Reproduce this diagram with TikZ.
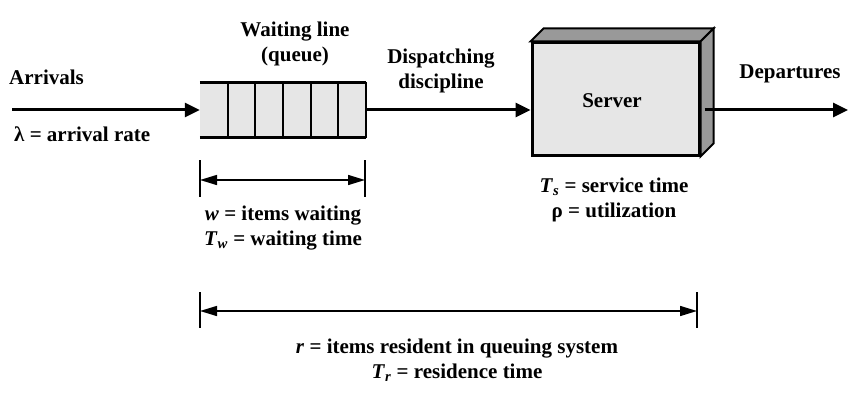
\documentclass[tikz,border=0pt]{standalone}
\usepackage{fontspec}
\setmainfont{Liberation Serif}
\usetikzlibrary{positioning,arrows.meta,calc}
\definecolor{qfill}{HTML}{E6E6E6}
\definecolor{qshade}{HTML}{999999}

\begin{document}
\begin{tikzpicture}[x=1pt, y=-1pt, font=\fontsize{21}{25}\selectfont\bfseries,
    flow/.style={line width=3pt, -{Triangle[length=15pt,width=14pt]}},
    dim/.style={line width=1.5pt, {Triangle[length=17pt,width=10pt]}-{Triangle[length=17pt,width=10pt]}},
    tick/.style={line width=1.5pt},
    lbl/.style={align=center, inner sep=0pt}]
        \useasboundingbox (0,0) rectangle (864,393);
        % queue
        \node[fill=qfill, minimum width=166pt, minimum height=55pt, inner sep=0pt] (queue) at (283,110) {};
        \draw[line width=3pt] (queue.north west) -- (queue.north east);
        \draw[line width=3pt] (queue.south west) -- (queue.south east);
        \draw[line width=2pt] (queue.north east) -- (queue.south east);
        \foreach \i in {1,...,5}
          \draw[line width=2pt] ($(queue.north west)!\i/6!(queue.north east)$) -- ($(queue.south west)!\i/6!(queue.south east)$);
        % server
        \node[draw, line width=3pt, fill=qfill, minimum width=167pt, minimum height=112pt, inner sep=0pt] (server) at (615.5,99) {};
        \draw[line width=2pt, fill=qshade] (server.north west) -- ++(13,-13) -- ($(server.north east)+(13,-13)$) -- (server.north east) -- cycle;
        \draw[line width=2pt, fill=qshade] (server.north east) -- ++(13,-13) -- ($(server.south east)+(13,-13)$) -- (server.south east) -- cycle;
        \node (srvtxt) at (612,101) {Server};
        % flow
        \coordinate (arr) at (12,110);
        \coordinate (dep) at (848,110);
        \draw[flow] (arr) -- (queue.west);
        \draw[flow] (queue.east) -- (queue.east -| server.west);
        \draw[flow] ($(queue.east -| server.east)+(4,0)$) -- (dep);
        % dimensions
        \coordinate (w1) at (200,180);
        \coordinate (w2) at (365,180);
        \coordinate (r1) at (200,311);
        \coordinate (r2) at (697,311);
        \foreach \c in {w1,w2}
          \draw[tick] ($(\c)+(0,-20)$) -- ($(\c)+(0,17)$);
        \foreach \c in {r1,r2}
          \draw[tick] ($(\c)+(0,-19)$) -- ($(\c)+(0,17)$);
        \draw[dim] (w1) -- (w2);
        \draw[dim] (r1) -- (r2);
        % labels
        \node[lbl, anchor=west] (arrlbl) at (9,77) {Arrivals};
        \node[lbl, anchor=west] (ratelbl) at (14,134) {λ = arrival rate};
        \node[lbl] (qlbl) at (295,44) {Waiting line\\(queue)};
        \node[lbl] (displbl) at (441,71) {Dispatching\\discipline};
        \node[lbl] (deplbl) at (790,74) {Departures};
        \node[lbl] (srvlbl) at (614,200) {\textit{T}\textsubscript{\textit{s}} = service time\\ρ = utilization};
        \node[lbl] (wlbl) at (283,228) {\textit{w} = items waiting\\\textit{T}\textsubscript{\textit{w}} = waiting time};
        \node[lbl] (rlbl) at (457,360) {\textit{r} = items resident in queuing system\\\textit{T}\textsubscript{\textit{r}} = residence time};
      \end{tikzpicture}
\end{document}
